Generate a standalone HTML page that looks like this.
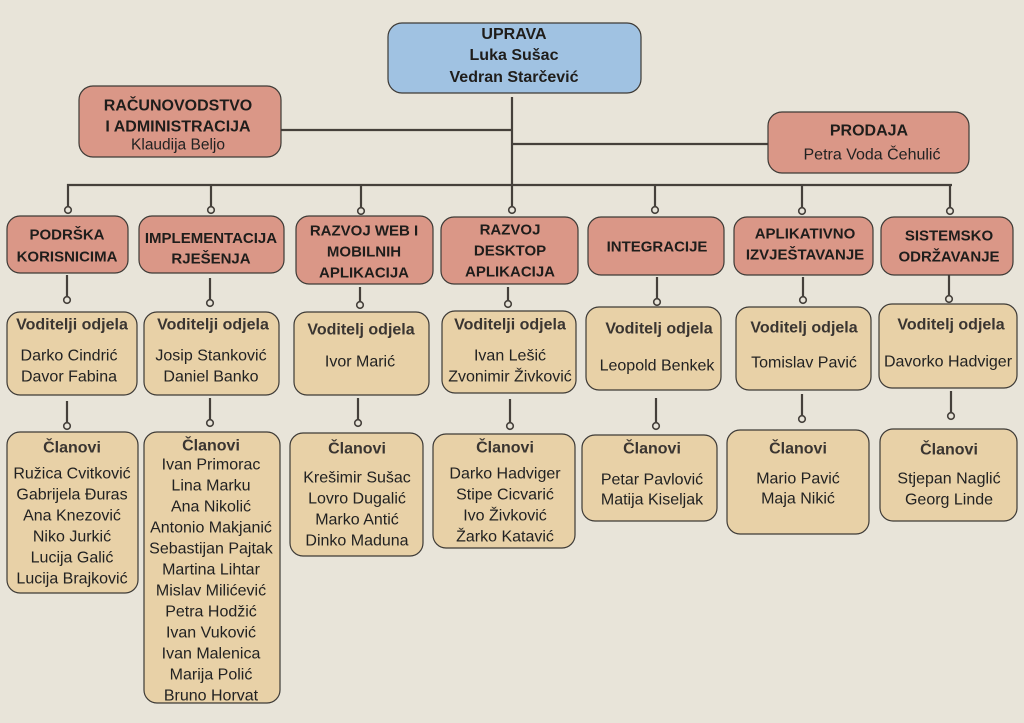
<!DOCTYPE html>
<html>
<head>
<meta charset="utf-8">
<style>
html,body{margin:0;padding:0;background:#e8e4d9;}
svg{display:block;}
text{font-family:"Liberation Sans",sans-serif;fill:#1f1d1b;}
.h{font-weight:bold;font-size:15px;}
.hb{font-weight:bold;font-size:16px;}
.t{font-weight:bold;font-size:16px;fill:#3a3531;}
.n{font-size:16px;fill:#222;}
.box{stroke:#3d3a36;stroke-width:1.2;}
.red{fill:#da9787;}
.tan{fill:#e8d1a7;}
.blue{fill:#a0c2e2;}
.ln{stroke:#45403b;stroke-width:2.2;fill:none;}
.c{fill:#e8e4d9;stroke:#45403b;stroke-width:1.6;}
</style>
</head>
<body>
<svg width="1024" height="723" viewBox="0 0 1024 723" xmlns="http://www.w3.org/2000/svg">
<rect x="0" y="0" width="1024" height="723" fill="#e8e4d9"/>

<!-- top level connectors -->
<line class="ln" x1="512" y1="97" x2="512" y2="207"/>
<line class="ln" x1="281" y1="130" x2="512" y2="130"/>
<line class="ln" x1="512" y1="144" x2="768" y2="144"/>
<line class="ln" x1="67" y1="185" x2="952" y2="185"/>
<line class="ln" x1="68" y1="184" x2="68" y2="207"/>
<line class="ln" x1="211" y1="184" x2="211" y2="207"/>
<line class="ln" x1="361" y1="184" x2="361" y2="208"/>
<line class="ln" x1="655" y1="184" x2="655" y2="207"/>
<line class="ln" x1="802" y1="184" x2="802" y2="208"/>
<line class="ln" x1="950" y1="184" x2="950" y2="208"/>
<circle class="c" cx="68" cy="210" r="3.3"/>
<circle class="c" cx="211" cy="210" r="3.3"/>
<circle class="c" cx="361" cy="211" r="3.3"/>
<circle class="c" cx="512" cy="210" r="3.3"/>
<circle class="c" cx="655" cy="210" r="3.3"/>
<circle class="c" cx="802" cy="211" r="3.3"/>
<circle class="c" cx="950" cy="211" r="3.3"/>

<!-- level2 -> voditelji connectors -->
<line class="ln" x1="67" y1="275" x2="67" y2="297"/><circle class="c" cx="67" cy="300" r="3.3"/>
<line class="ln" x1="210" y1="278" x2="210" y2="300"/><circle class="c" cx="210" cy="303" r="3.3"/>
<line class="ln" x1="360" y1="287" x2="360" y2="302"/><circle class="c" cx="360" cy="305" r="3.3"/>
<line class="ln" x1="508" y1="287" x2="508" y2="301"/><circle class="c" cx="508" cy="304" r="3.3"/>
<line class="ln" x1="657" y1="277" x2="657" y2="299"/><circle class="c" cx="657" cy="302" r="3.3"/>
<line class="ln" x1="803" y1="277" x2="803" y2="297"/><circle class="c" cx="803" cy="300" r="3.3"/>
<line class="ln" x1="949" y1="275" x2="949" y2="296"/><circle class="c" cx="949" cy="299" r="3.3"/>

<!-- voditelji -> clanovi connectors -->
<line class="ln" x1="67" y1="401" x2="67" y2="423"/><circle class="c" cx="67" cy="426" r="3.3"/>
<line class="ln" x1="210" y1="398" x2="210" y2="420"/><circle class="c" cx="210" cy="423" r="3.3"/>
<line class="ln" x1="358" y1="398" x2="358" y2="420"/><circle class="c" cx="358" cy="423" r="3.3"/>
<line class="ln" x1="510" y1="399" x2="510" y2="423"/><circle class="c" cx="510" cy="426" r="3.3"/>
<line class="ln" x1="656" y1="398" x2="656" y2="423"/><circle class="c" cx="656" cy="426" r="3.3"/>
<line class="ln" x1="802" y1="394" x2="802" y2="416"/><circle class="c" cx="802" cy="419" r="3.3"/>
<line class="ln" x1="951" y1="391" x2="951" y2="413"/><circle class="c" cx="951" cy="416" r="3.3"/>

<!-- top boxes -->
<rect class="box blue" x="388" y="23" width="253" height="70" rx="14"/>
<text class="hb" x="514" y="39" text-anchor="middle">UPRAVA</text>
<text class="hb" x="514" y="60" text-anchor="middle">Luka Sušac</text>
<text class="hb" x="514" y="82" text-anchor="middle">Vedran Starčević</text>

<rect class="box red" x="79" y="86" width="202" height="71" rx="14"/>
<text class="hb" x="178" y="110.5" text-anchor="middle">RAČUNOVODSTVO</text>
<text class="hb" x="178" y="131.5" text-anchor="middle">I ADMINISTRACIJA</text>
<text class="n" x="178" y="149.5" text-anchor="middle" style="font-size:15.5px">Klaudija Beljo</text>

<rect class="box red" x="768" y="112" width="201" height="61" rx="14"/>
<text class="hb" x="869" y="135.5" text-anchor="middle">PRODAJA</text>
<text class="n" x="872" y="159.5" text-anchor="middle">Petra Voda Čehulić</text>

<!-- level 2 -->
<rect class="box red" x="7" y="216" width="121" height="57" rx="13"/>
<text class="h" x="67" y="239.5" text-anchor="middle">PODRŠKA</text>
<text class="h" x="67" y="261.5" text-anchor="middle">KORISNICIMA</text>

<rect class="box red" x="139" y="216" width="145" height="57" rx="13"/>
<text class="h" x="211" y="243" text-anchor="middle">IMPLEMENTACIJA</text>
<text class="h" x="211" y="263.5" text-anchor="middle">RJEŠENJA</text>

<rect class="box red" x="296" y="216" width="137" height="68" rx="13"/>
<text class="h" x="364" y="235.5" text-anchor="middle">RAZVOJ WEB I</text>
<text class="h" x="364" y="256.5" text-anchor="middle">MOBILNIH</text>
<text class="h" x="364" y="277.5" text-anchor="middle">APLIKACIJA</text>

<rect class="box red" x="441" y="217" width="137" height="67" rx="13"/>
<text class="h" x="510" y="234.5" text-anchor="middle">RAZVOJ</text>
<text class="h" x="510" y="255.5" text-anchor="middle">DESKTOP</text>
<text class="h" x="510" y="276.5" text-anchor="middle">APLIKACIJA</text>

<rect class="box red" x="588" y="217" width="136" height="58" rx="13"/>
<text class="h" x="657" y="251.5" text-anchor="middle">INTEGRACIJE</text>

<rect class="box red" x="734" y="217" width="139" height="58" rx="13"/>
<text class="h" x="805" y="238.5" text-anchor="middle">APLIKATIVNO</text>
<text class="h" x="805" y="259.5" text-anchor="middle">IZVJEŠTAVANJE</text>

<rect class="box red" x="881" y="217" width="132" height="58" rx="13"/>
<text class="h" x="949" y="240.5" text-anchor="middle">SISTEMSKO</text>
<text class="h" x="949" y="261.5" text-anchor="middle">ODRŽAVANJE</text>

<!-- voditelji -->
<rect class="box tan" x="7" y="312" width="130" height="83" rx="13"/>
<text class="t" x="72" y="329.5" text-anchor="middle">Voditelji odjela</text>
<text class="n" x="69" y="360.5" text-anchor="middle">Darko Cindrić</text>
<text class="n" x="69" y="381.5" text-anchor="middle">Davor Fabina</text>

<rect class="box tan" x="144" y="312" width="135" height="83" rx="13"/>
<text class="t" x="213" y="329.5" text-anchor="middle">Voditelji odjela</text>
<text class="n" x="211" y="360.5" text-anchor="middle">Josip Stanković</text>
<text class="n" x="211" y="381.5" text-anchor="middle">Daniel Banko</text>

<rect class="box tan" x="294" y="312" width="135" height="83" rx="13"/>
<text class="t" x="361" y="334.5" text-anchor="middle">Voditelj odjela</text>
<text class="n" x="360" y="366.5" text-anchor="middle">Ivor Marić</text>

<rect class="box tan" x="442" y="311" width="134" height="82" rx="13"/>
<text class="t" x="510" y="329.5" text-anchor="middle">Voditelji odjela</text>
<text class="n" x="510" y="360.5" text-anchor="middle">Ivan Lešić</text>
<text class="n" x="510" y="381.5" text-anchor="middle">Zvonimir Živković</text>

<rect class="box tan" x="586" y="307" width="135" height="83" rx="13"/>
<text class="t" x="659" y="333.5" text-anchor="middle">Voditelj odjela</text>
<text class="n" x="657" y="370.5" text-anchor="middle">Leopold Benkek</text>

<rect class="box tan" x="736" y="307" width="135" height="83" rx="13"/>
<text class="t" x="804" y="332.5" text-anchor="middle">Voditelj odjela</text>
<text class="n" x="804" y="367.5" text-anchor="middle">Tomislav Pavić</text>

<rect class="box tan" x="879" y="304" width="138" height="84" rx="13"/>
<text class="t" x="951" y="329.5" text-anchor="middle">Voditelj odjela</text>
<text class="n" x="948" y="366.5" text-anchor="middle">Davorko Hadviger</text>

<!-- clanovi -->
<rect class="box tan" x="7" y="432" width="131" height="161" rx="13"/>
<text class="t" x="72" y="452.5" text-anchor="middle">Članovi</text>
<text class="n" x="72" y="478.5" text-anchor="middle">Ružica Cvitković</text>
<text class="n" x="72" y="499.5" text-anchor="middle">Gabrijela Đuras</text>
<text class="n" x="72" y="520.5" text-anchor="middle">Ana Knezović</text>
<text class="n" x="72" y="541.5" text-anchor="middle">Niko Jurkić</text>
<text class="n" x="72" y="562.5" text-anchor="middle">Lucija Galić</text>
<text class="n" x="72" y="583.5" text-anchor="middle">Lucija Brajković</text>

<rect class="box tan" x="144" y="432" width="136" height="271" rx="13"/>
<text class="t" x="211" y="450.5" text-anchor="middle">Članovi</text>
<text class="n" x="211" y="469.5" text-anchor="middle">Ivan Primorac</text>
<text class="n" x="211" y="490.5" text-anchor="middle">Lina Marku</text>
<text class="n" x="211" y="511.5" text-anchor="middle">Ana Nikolić</text>
<text class="n" x="211" y="532.5" text-anchor="middle">Antonio Makjanić</text>
<text class="n" x="211" y="553.5" text-anchor="middle">Sebastijan Pajtak</text>
<text class="n" x="211" y="574.5" text-anchor="middle">Martina Lihtar</text>
<text class="n" x="211" y="595.5" text-anchor="middle">Mislav Milićević</text>
<text class="n" x="211" y="616.5" text-anchor="middle">Petra Hodžić</text>
<text class="n" x="211" y="637.5" text-anchor="middle">Ivan Vuković</text>
<text class="n" x="211" y="658.5" text-anchor="middle">Ivan Malenica</text>
<text class="n" x="211" y="679.5" text-anchor="middle">Marija Polić</text>
<text class="n" x="211" y="700.5" text-anchor="middle">Bruno Horvat</text>

<rect class="box tan" x="290" y="433" width="133" height="123" rx="13"/>
<text class="t" x="357" y="453.5" text-anchor="middle">Članovi</text>
<text class="n" x="357" y="482.5" text-anchor="middle">Krešimir Sušac</text>
<text class="n" x="357" y="503.5" text-anchor="middle">Lovro Dugalić</text>
<text class="n" x="357" y="524.5" text-anchor="middle">Marko Antić</text>
<text class="n" x="357" y="545.5" text-anchor="middle">Dinko Maduna</text>

<rect class="box tan" x="433" y="434" width="142" height="114" rx="13"/>
<text class="t" x="505" y="452.5" text-anchor="middle">Članovi</text>
<text class="n" x="505" y="478.5" text-anchor="middle">Darko Hadviger</text>
<text class="n" x="505" y="499.5" text-anchor="middle">Stipe Cicvarić</text>
<text class="n" x="505" y="520.5" text-anchor="middle">Ivo Živković</text>
<text class="n" x="505" y="541.5" text-anchor="middle">Žarko Katavić</text>

<rect class="box tan" x="582" y="435" width="135" height="86" rx="13"/>
<text class="t" x="652" y="453.5" text-anchor="middle">Članovi</text>
<text class="n" x="652" y="484.5" text-anchor="middle">Petar Pavlović</text>
<text class="n" x="652" y="504.5" text-anchor="middle">Matija Kiseljak</text>

<rect class="box tan" x="727" y="430" width="142" height="104" rx="13"/>
<text class="t" x="798" y="453.5" text-anchor="middle">Članovi</text>
<text class="n" x="798" y="483.5" text-anchor="middle">Mario Pavić</text>
<text class="n" x="798" y="503.5" text-anchor="middle">Maja Nikić</text>

<rect class="box tan" x="880" y="429" width="137" height="92" rx="13"/>
<text class="t" x="949" y="454.5" text-anchor="middle">Članovi</text>
<text class="n" x="949" y="483.5" text-anchor="middle">Stjepan Naglić</text>
<text class="n" x="949" y="504.5" text-anchor="middle">Georg Linde</text>
</svg>
</body>
</html>
